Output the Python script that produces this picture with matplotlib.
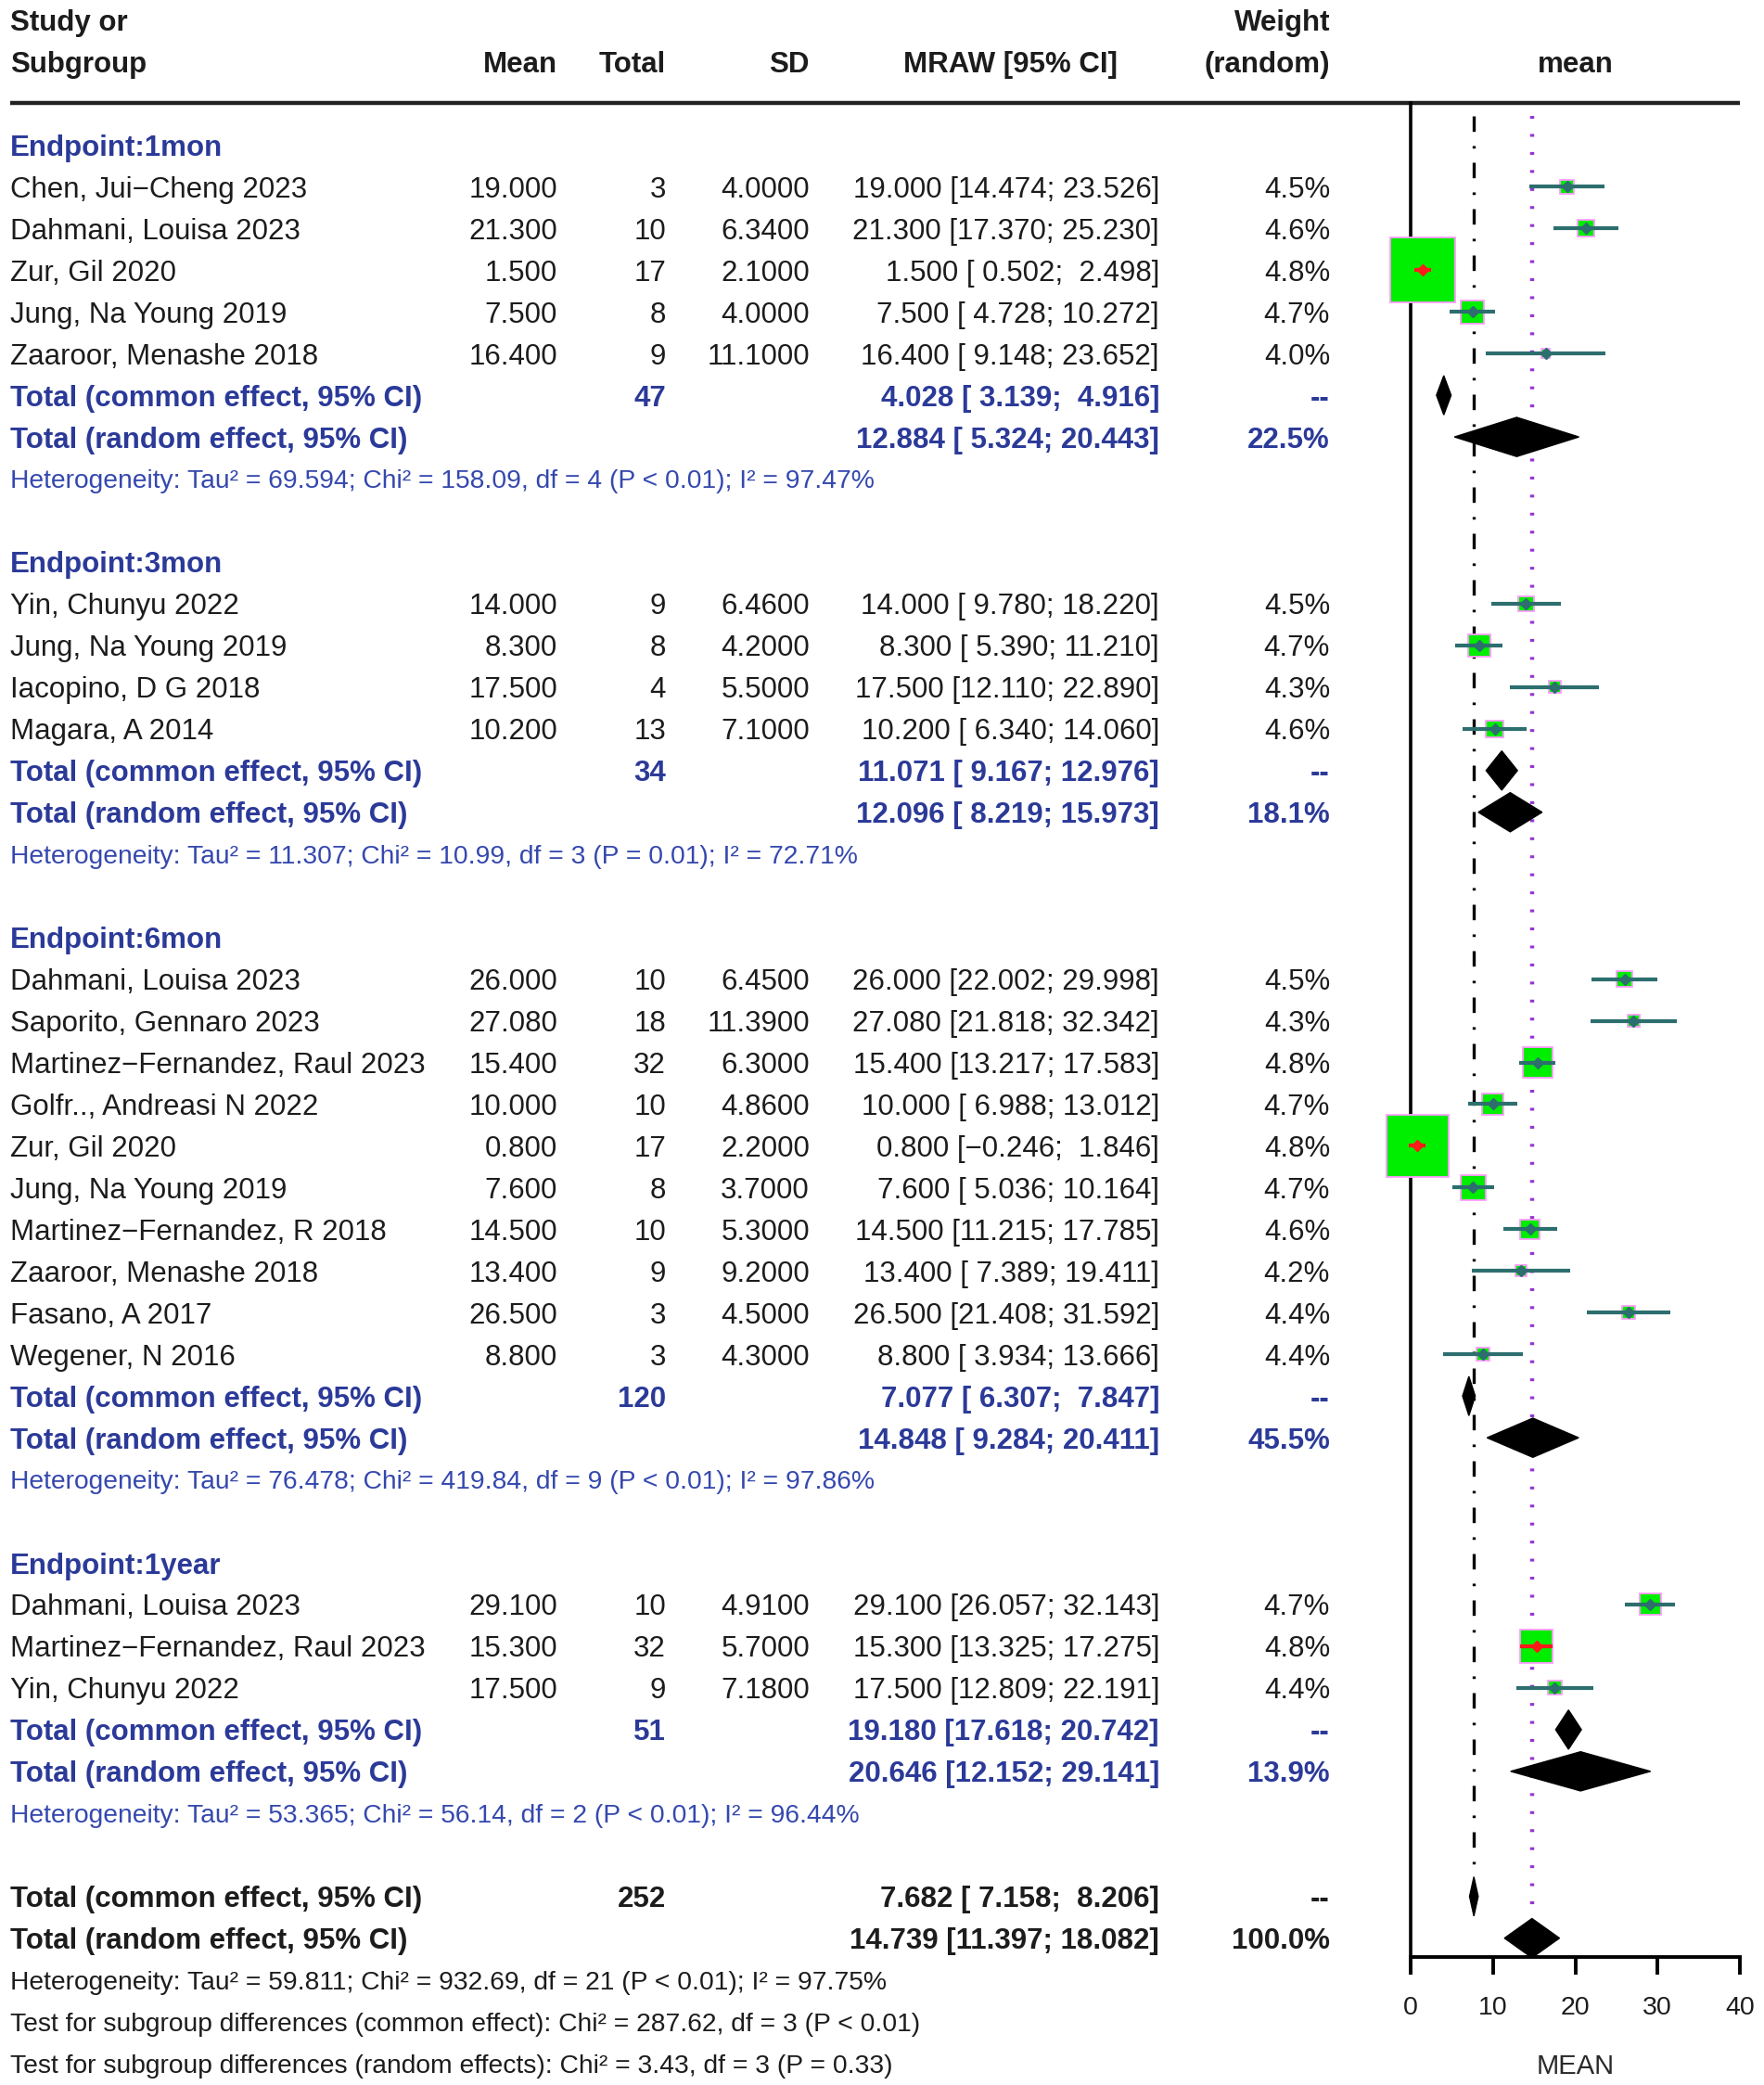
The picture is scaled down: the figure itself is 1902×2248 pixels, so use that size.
import matplotlib.pyplot as plt
from matplotlib.patches import Rectangle, Polygon
import numpy as np

plt.rcParams["font.family"] = ["Liberation Sans", "DejaVu Sans"]
plt.rcParams["lines.scale_dashes"] = False

# ---------------- data ----------------
group_labels = ["Endpoint:1mon", "Endpoint:3mon", "Endpoint:6mon", "Endpoint:1year"]

names_1mon = ["Chen, Jui\u2212Cheng 2023", "Dahmani, Louisa 2023", "Zur, Gil 2020",
              "Jung, Na Young 2019", "Zaaroor, Menashe 2018"]
mean_1mon = [19.0, 21.3, 1.5, 7.5, 16.4]
n_1mon = [3, 10, 17, 8, 9]
sd_1mon = [4.0, 6.34, 2.1, 4.0, 11.1]
lo_1mon = [14.474, 17.370, 0.502, 4.728, 9.148]
hi_1mon = [23.526, 25.230, 2.498, 10.272, 23.652]
wt_1mon = ["4.5%", "4.6%", "4.8%", "4.7%", "4.0%"]

names_3mon = ["Yin, Chunyu 2022", "Jung, Na Young 2019", "Iacopino, D G 2018", "Magara, A 2014"]
mean_3mon = [14.0, 8.3, 17.5, 10.2]
n_3mon = [9, 8, 4, 13]
sd_3mon = [6.46, 4.2, 5.5, 7.1]
lo_3mon = [9.780, 5.390, 12.110, 6.340]
hi_3mon = [18.220, 11.210, 22.890, 14.060]
wt_3mon = ["4.5%", "4.7%", "4.3%", "4.6%"]

names_6mon = ["Dahmani, Louisa 2023", "Saporito, Gennaro 2023", "Martinez\u2212Fernandez, Raul 2023",
              "Golfr.., Andreasi N 2022", "Zur, Gil 2020", "Jung, Na Young 2019",
              "Martinez\u2212Fernandez, R 2018", "Zaaroor, Menashe 2018", "Fasano, A 2017",
              "Wegener, N 2016"]
mean_6mon = [26.0, 27.08, 15.4, 10.0, 0.8, 7.6, 14.5, 13.4, 26.5, 8.8]
n_6mon = [10, 18, 32, 10, 17, 8, 10, 9, 3, 3]
sd_6mon = [6.45, 11.39, 6.3, 4.86, 2.2, 3.7, 5.3, 9.2, 4.5, 4.3]
lo_6mon = [22.002, 21.818, 13.217, 6.988, -0.246, 5.036, 11.215, 7.389, 21.408, 3.934]
hi_6mon = [29.998, 32.342, 17.583, 13.012, 1.846, 10.164, 17.785, 19.411, 31.592, 13.666]
wt_6mon = ["4.5%", "4.3%", "4.8%", "4.7%", "4.8%", "4.7%", "4.6%", "4.2%", "4.4%", "4.4%"]

names_1year = ["Dahmani, Louisa 2023", "Martinez\u2212Fernandez, Raul 2023", "Yin, Chunyu 2022"]
mean_1year = [29.1, 15.3, 17.5]
n_1year = [10, 32, 9]
sd_1year = [4.91, 5.7, 7.18]
lo_1year = [26.057, 13.325, 12.809]
hi_1year = [32.143, 17.275, 22.191]
wt_1year = ["4.7%", "4.8%", "4.4%"]

# pooled results per subgroup
common_est = [4.028, 11.071, 7.077, 19.180]
common_lo = [3.139, 9.167, 6.307, 17.618]
common_hi = [4.916, 12.976, 7.847, 20.742]
common_n = [47, 34, 120, 51]
random_est = [12.884, 12.096, 14.848, 20.646]
random_lo = [5.324, 8.219, 9.284, 12.152]
random_hi = [20.443, 15.973, 20.411, 29.141]
random_wt = ["22.5%", "18.1%", "45.5%", "13.9%"]
het_tau2 = ["69.594", "11.307", "76.478", "53.365"]
het_chi2 = ["158.09", "10.99", "419.84", "56.14"]
het_df = [4, 3, 9, 2]
het_p = ["P < 0.01", "P = 0.01", "P < 0.01", "P < 0.01"]
het_i2 = ["97.47%", "72.71%", "97.86%", "96.44%"]

# overall results
overall_common = [7.682, 7.158, 8.206]
overall_random = [14.739, 11.397, 18.082]
overall_n = 252
overall_het = "Heterogeneity: Tau\u00b2 = 59.811; Chi\u00b2 = 932.69, df = 21 (P < 0.01); I\u00b2 = 97.75%"
test_common = "Test for subgroup differences (common effect): Chi\u00b2 = 287.62, df = 3 (P < 0.01)"
test_random = "Test for subgroup differences (random effects): Chi\u00b2 = 3.43, df = 3 (P = 0.33)"

x_ticks = [0, 10, 20, 30, 40]

groups = [
    (names_1mon, mean_1mon, n_1mon, sd_1mon, lo_1mon, hi_1mon, wt_1mon),
    (names_3mon, mean_3mon, n_3mon, sd_3mon, lo_3mon, hi_3mon, wt_3mon),
    (names_6mon, mean_6mon, n_6mon, sd_6mon, lo_6mon, hi_6mon, wt_6mon),
    (names_1year, mean_1year, n_1year, sd_1year, lo_1year, hi_1year, wt_1year),
]

# ---------------- layout ----------------
W_PX, H_PX = 1902, 2248
ROW_PX = 44.96
ROW0_PX = 21.5
AX_LEFT, AX_RIGHT = 1521, 1876
PX_PER_X = (AX_RIGHT - AX_LEFT) / 40.0
BOX_MAX_PX = 70.0
y_top = -ROW0_PX / ROW_PX
y_bot = (H_PX - ROW0_PX) / ROW_PX
AXIS_ROW = 46.45

BLUE = "#2B3A98"
BLUE_HET = "#3548AE"
BLACK = "#1c1c1c"
TEAL = "#2d6e6e"
FS = 22.5
FS_SMALL = 20.3

fig = plt.figure(figsize=(W_PX / 100, H_PX / 100), dpi=100)
tab = fig.add_axes([0, 0, 1, 1])
tab.set_xlim(0, W_PX)
tab.set_ylim(y_bot, y_top)
tab.axis("off")

ax = fig.add_axes([AX_LEFT / W_PX, 0, (AX_RIGHT - AX_LEFT) / W_PX, 1])
ax.set_xlim(0, 40)
ax.set_ylim(y_bot, y_top)
ax.patch.set_alpha(0)

X_LABEL, X_MEAN, X_N, X_SD, X_CI, X_W = 11, 601, 718, 873, 1250, 1434


def txt(x, y, s, ha="left", color=BLACK, bold=False, size=FS):
    tab.text(x, y, s, ha=ha, va="center_baseline", color=color, fontsize=size,
             fontweight="bold" if bold else "normal")


def ci_str(est, lo, hi):
    return f"{est:.3f} [{lo:6.3f}; {hi:6.3f}]".replace("-", "\u2212")


def diamond(y, est, lo, hi):
    h = 0.47
    ax.add_patch(Polygon([(lo, y), (est, y - h), (hi, y), (est, y + h)], closed=True,
                         fc="black", ec="black", lw=1, zorder=6, clip_on=False))


# header
txt(X_LABEL, 0, "Study or", bold=True)
txt(X_LABEL, 1, "Subgroup", bold=True)
txt(X_MEAN, 1, "Mean", ha="right", bold=True)
txt(X_N, 1, "Total", ha="right", bold=True)
txt(X_SD, 1, "SD", ha="right", bold=True)
txt(1090, 1, "MRAW [95% CI]", ha="center", bold=True)
txt(X_W, 0, "Weight", ha="right", bold=True)
txt(X_W, 1, "(random)", ha="right", bold=True)
txt((AX_LEFT + AX_RIGHT) / 2, 1, "mean", ha="center", bold=True)
tab.plot([11, AX_RIGHT], [2, 2], color="#222222", lw=3.2, solid_capstyle="butt")

w_max = max(n / sd ** 2 for g in groups for n, sd in zip(g[2], g[3]))

row = 3
for gi, (names, means, ns, sds, los, his, wts) in enumerate(groups):
    txt(X_LABEL, row, group_labels[gi], color=BLUE, bold=True)
    row += 1
    for name, m, n, sd, lo, hi, wt in zip(names, means, ns, sds, los, his, wts):
        txt(X_LABEL, row, name)
        txt(X_MEAN, row, f"{m:.3f}", ha="right")
        txt(X_N, row, f"{n}", ha="right")
        txt(X_SD, row, f"{sd:.4f}", ha="right")
        txt(X_CI, row, ci_str(m, lo, hi), ha="right")
        txt(X_W, row, wt, ha="right")

        # box area proportional to inverse-variance weight
        side = BOX_MAX_PX * np.sqrt((n / sd ** 2) / w_max)
        bw, bh = side / PX_PER_X, side / ROW_PX
        ax.add_patch(Rectangle((m - bw / 2, row - bh / 2), bw, bh, fc="#00ee00",
                               ec="#ff9cff", lw=1.3, zorder=3, clip_on=False))
        col = "#ff1a1a" if (hi - lo) < bw else TEAL
        ax.plot([lo, hi], [row, row], color=col, lw=3.0, solid_capstyle="butt",
                zorder=4, clip_on=False)
        ax.plot(m, row, marker="D", ms=6, color=col, zorder=5, clip_on=False)
        row += 1

    txt(X_LABEL, row, "Total (common effect, 95% CI)", color=BLUE, bold=True)
    txt(X_N, row, f"{common_n[gi]}", ha="right", color=BLUE, bold=True)
    txt(X_CI, row, ci_str(common_est[gi], common_lo[gi], common_hi[gi]), ha="right",
        color=BLUE, bold=True)
    txt(X_W, row, "--", ha="right", color=BLUE, bold=True)
    diamond(row, common_est[gi], common_lo[gi], common_hi[gi])
    row += 1

    txt(X_LABEL, row, "Total (random effect, 95% CI)", color=BLUE, bold=True)
    txt(X_CI, row, ci_str(random_est[gi], random_lo[gi], random_hi[gi]), ha="right",
        color=BLUE, bold=True)
    txt(X_W, row, random_wt[gi], ha="right", color=BLUE, bold=True)
    diamond(row, random_est[gi], random_lo[gi], random_hi[gi])
    row += 1

    het = (f"Heterogeneity: Tau\u00b2 = {het_tau2[gi]}; Chi\u00b2 = {het_chi2[gi]}, "
           f"df = {het_df[gi]} ({het_p[gi]}); I\u00b2 = {het_i2[gi]}")
    txt(X_LABEL, row, het, color=BLUE_HET, size=FS_SMALL)
    row += 2

# overall
txt(X_LABEL, row, "Total (common effect, 95% CI)", bold=True)
txt(X_N, row, f"{overall_n}", ha="right", bold=True)
txt(X_CI, row, ci_str(*overall_common), ha="right", bold=True)
txt(X_W, row, "--", ha="right", bold=True)
diamond(row, *overall_common)
common_row = row
row += 1
txt(X_LABEL, row, "Total (random effect, 95% CI)", bold=True)
txt(X_CI, row, ci_str(*overall_random), ha="right", bold=True)
txt(X_W, row, "100.0%", ha="right", bold=True)
diamond(row, *overall_random)
random_row = row
row += 1
txt(X_LABEL, row, overall_het, size=FS_SMALL)
txt(X_LABEL, row + 1, test_common, size=FS_SMALL)
txt(X_LABEL, row + 2, test_random, size=FS_SMALL)

# reference lines (common: dash-dot, random: dotted)
ax.plot([overall_common[0]] * 2, [2.3, common_row - 0.5], color="black", lw=2.4,
        linestyle=(0, (12, 11, 2, 11)), zorder=2)
ax.plot([overall_random[0]] * 2, [2.3, random_row - 0.5], color="#9436d0", lw=3.2,
        linestyle=(0, (2.2, 11.8)), zorder=2)

# axes
for s in ["top", "right"]:
    ax.spines[s].set_visible(False)
ax.spines["left"].set_bounds(AXIS_ROW, 2)
ax.spines["left"].set_linewidth(2.6)
ax.spines["bottom"].set_position(("data", AXIS_ROW))
ax.spines["bottom"].set_bounds(0, 40)
ax.spines["bottom"].set_linewidth(2.8)
ax.set_yticks([])
ax.set_xticks(x_ticks)
ax.tick_params(axis="x", direction="out", length=14, width=2.8, pad=16,
               labelsize=20.5, labelcolor=BLACK)
ax.set_xlabel("MEAN", fontsize=21, color="#2a2a2a", labelpad=0)
ax.xaxis.set_label_coords(0.5, 1 - (2228 / H_PX), transform=ax.transAxes)
ax.xaxis.label.set_va("center")

fig.savefig("out.png", dpi=100)
